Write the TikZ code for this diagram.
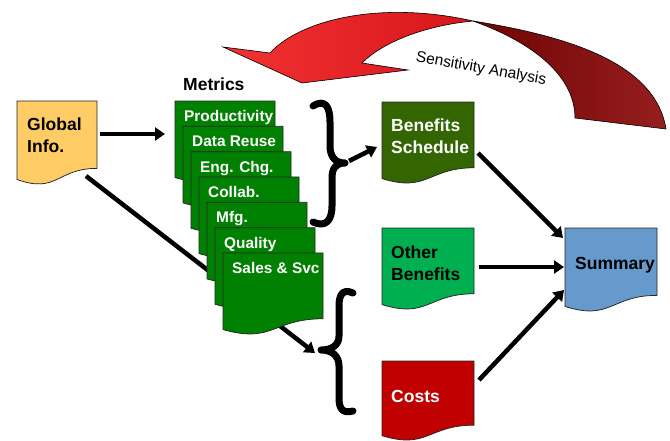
\documentclass[tikz,border=0pt]{standalone}
\usepackage{fontspec}
\setmainfont{Liberation Sans}
\usetikzlibrary{arrows.meta}
\definecolor{giYellow}{HTML}{FFCC66}
\definecolor{metGreen}{HTML}{008000}
\definecolor{bsGreen}{HTML}{336600}
\definecolor{obGreen}{HTML}{00B050}
\definecolor{costRed}{HTML}{C00000}
\definecolor{sumBlue}{HTML}{6699CC}
\definecolor{arrowA}{RGB}{242,50,50}
\definecolor{arrowB}{RGB}{214,22,26}
\definecolor{arrowC}{RGB}{112,4,4}
\definecolor{arrowD}{RGB}{150,30,30}
\newcommand{\docbox}[6]{%
  \filldraw[docline, fill=#6] ({#2},{#3}) -- ({#2+#4},{#3}) -- ({#2+#4},{#3+0.802*#5})
    .. controls ({#2+0.5*#4},{#3+0.802*#5}) and ({#2+0.5*#4},{#3+1.1075*#5}) .. ({#2},{#3+0.934*#5}) -- cycle;
  \node[docanchor, minimum width=#4pt, minimum height=#5pt, anchor=north west] (#1) at ({#2},{#3}) {};
}
\begin{document}
\begin{tikzpicture}[x=1pt, y=-1pt,
  docline/.style={draw=black!85, line width=0.75pt},
  docanchor/.style={rectangle, draw=none, inner sep=0pt, outer sep=0pt},
  conn/.style={line width=4.5pt, -{Triangle[length=10pt,width=13pt]}},
  bigtxt/.style={font=\bfseries\fontsize{17.5}{22.5}\selectfont, inner sep=0pt},
  smalltxt/.style={font=\bfseries\fontsize{15.4}{18}\selectfont, text=white, inner sep=0pt, anchor=base west},
  sens/.style={font=\fontsize{15.5}{18}\selectfont, inner sep=0pt},
  bracestyle/.style={line width=7pt, line cap=round, line join=round},
  ribbon/.style={draw=black, line width=0.6pt}]
\fill[white] (0,0) rectangle (670,440);
\useasboundingbox (0,0) rectangle (670,440);

% sensitivity analysis arrow (twisted ribbon)
\path[ribbon, left color=arrowA, right color=arrowB]
  (302,83) -- (223,47) -- (270,53) .. controls (300,20) and (380,0) .. (473,21)
  .. controls (430,25) and (385,40) .. (362,63) -- (408,70) -- cycle;
\path[ribbon, left color=arrowC, right color=arrowD]
  (473,21) .. controls (560,35) and (655,60) .. (666,129) -- (575,118)
  .. controls (575,80) and (540,45) .. (473,21) -- cycle;
\node[sens, rotate=-10] (sa) at (481,69) {Sensitivity Analysis};

% brace tips
\coordinate (b1tip) at (345,163);
\coordinate (b2tip) at (321,350);

% Global info
\docbox{gi}{17}{101}{80}{84}{giYellow}
\node[bigtxt, anchor=north west, align=left] (git) at ([shift={(10,13.25)}]gi.north west) {\strut Global\\\strut Info.};

% connector behind the metric boxes
\draw[conn] ([shift={(-11,-9)}]gi.south east) -- ([shift={(-6,3)}]b2tip);

% metric boxes
\foreach \i/\t in {0/Productivity, 1/Data Reuse, 2/Eng. Chg., 3/Collab., 4/Mfg., 5/Quality, 6/{Sales \& Svc}} {
  \docbox{m\i}{175+8*\i}{101+25.33*\i}{100}{82}{metGreen}
  \node[smalltxt] (mt\i) at ([shift={(9,20.5)}]m\i.north west) {\t};
}
\node[bigtxt, anchor=base west] (metlbl) at ([shift={(8,-11)}]m0.north west) {Metrics};

% braces
\draw[bracestyle] (313,106) .. controls (326,98) and (330,108) .. (330,122) -- (330,148)
  .. controls (331,158) and (336,163) .. (b1tip) .. controls (336,163) and (332,168) .. (332,178)
  -- (332,206) .. controls (332,220) and (326,228) .. (313,222);
\draw[bracestyle] (353,293) .. controls (342,288) and (339,296) .. (339,306) -- (339,336)
  .. controls (339,345) and (332,350) .. (b2tip) .. controls (332,350) and (339,356) .. (339,366)
  -- (339,398) .. controls (339,408) and (342,414) .. (353,411);

% right column
\docbox{bs}{382}{102}{92}{82}{bsGreen}
\node[bigtxt, text=white, anchor=north west, align=left] (bst) at ([shift={(9,13.25)}]bs.north west) {\strut Benefits\\\strut Schedule};
\docbox{ob}{382}{228}{92}{82}{obGreen}
\node[bigtxt, anchor=north west, align=left] (obt) at ([shift={(9,14.25)}]ob.north west) {\strut Other\\\strut Benefits};
\docbox{costs}{382}{361}{92}{80}{costRed}
\node[bigtxt, text=white, anchor=base west] (ct) at ([shift={(9,41)}]costs.north west) {Costs};
\docbox{sum}{565}{228}{92}{84}{sumBlue}
\node[bigtxt, anchor=base west] (st) at ([shift={(10,41)}]sum.north west) {Summary};

% connectors
\draw[conn] ([shift={(3,-9)}]gi.east) -- ([shift={(-10,-8)}]m0.west);
\draw[conn] ([shift={(4,-2)}]b1tip) -- ([shift={(-5,4)}]bs.west);
\draw[conn] ([shift={(4,10)}]bs.east) -- ([shift={(-2,10)}]sum.north west);
\draw[conn] ([shift={(5,-2)}]ob.east) -- ([shift={(-1,-3)}]sum.west);
\draw[conn] ([shift={(5,-21)}]costs.east) -- ([shift={(-1,20)}]sum.west);
\end{tikzpicture}
\end{document}
